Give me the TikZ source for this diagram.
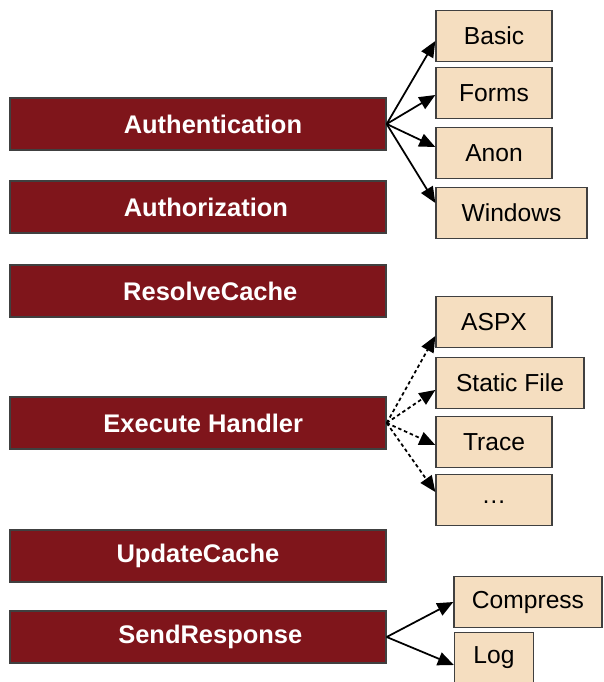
\documentclass[tikz,border=0pt]{standalone}
\usepackage{fontspec}
\setmainfont{Liberation Sans}
\usepackage{xcolor}
\usetikzlibrary{arrows.meta,positioning,calc}
\definecolor{stagered}{HTML}{7F151B}
\definecolor{modtan}{HTML}{F5DEC0}

\begin{document}
\begin{tikzpicture}[x=0.02cm,y=-0.02cm,
  stage/.style={draw=black!75,line width=0.8pt,fill=stagered,text=white,font=\fontsize{14.5}{17}\selectfont\bfseries,minimum width=7.52cm,minimum height=1.04cm,inner sep=0pt},
  module/.style={draw=black!75,line width=0.8pt,fill=modtan,font=\fontsize{14}{17}\selectfont,minimum height=1.02cm,inner sep=0pt},
  link/.style={line width=1pt,-{Triangle[length=0.32cm,width=0.27cm]}},
  dlink/.style={link,dash pattern=on 2pt off 1.6pt}]
  \useasboundingbox (0,0) rectangle (603,682);
  % pipeline stages
  \node[stage] (auth) at (198,124) {\hspace*{17pt}Authentication};
  \node[stage] (authz) at (198,207) {\hspace*{9pt}Authorization};
  \node[stage] (rcache) at (198,291) {\hspace*{14pt}ResolveCache};
  \node[stage] (exec) at (198,423) {\hspace*{6pt}Execute Handler};
  \node[stage] (ucache) at (198,556) {UpdateCache};
  \node[stage] (send) at (198,637) {\hspace*{14pt}SendResponse};
  % modules
  \node[module,minimum width=2.32cm] (basic) at (494,36) {Basic};
  \node[module,minimum width=2.32cm] (forms) at (494,93) {Forms};
  \node[module,minimum width=2.32cm] (anon) at (494,153) {Anon};
  \node[module,minimum width=3.02cm] (windows) at (511.5,213) {Windows};
  \node[module,minimum width=2.32cm] (aspx) at (494,322) {ASPX};
  \node[module,minimum width=2.96cm] (static) at (510,383) {Static File};
  \node[module,minimum width=2.32cm] (trace) at (494,442) {Trace};
  \node[module,minimum width=2.32cm] (more) at (494,500) {\raisebox{-4pt}{\dots}};
  \node[module,minimum width=2.96cm] (compress) at (528,602) {Compress};
  \node[module,minimum width=1.58cm] (log) at (494,658) {Log};
  % connectors
  \foreach \m/\d in {basic/5,forms/2,anon/-6,windows/-10}
    \draw[link] (auth.east) -- ($(\m.west)+(0,\d)$);
  \foreach \m/\d in {aspx/14,static/7,trace/3,more/-8}
    \draw[dlink] (exec.east) -- ($(\m.west)+(0,\d)$);
  \foreach \m/\d in {compress/0,log/7}
    \draw[link] (send.east) -- ($(\m.west)+(0,\d)$);
\end{tikzpicture}
\end{document}
